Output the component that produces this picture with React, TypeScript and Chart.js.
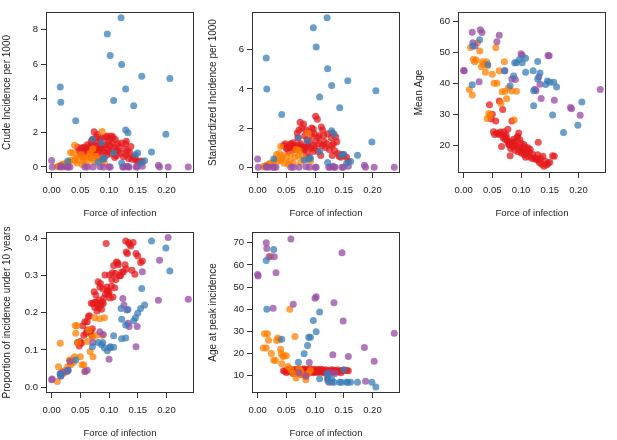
import React, { useEffect, useRef } from 'react';
import Chart from 'chart.js/auto';

// x ticks and axis range shared by every panel (force of infection)
const xTicks = [0, 0.05, 0.1, 0.15, 0.2];
const X_MIN = -0.0098;
const X_MAX = 0.248;

// red group
const redX = [0.045, 0.048, 0.050, 0.052, 0.054, 0.056, 0.058, 0.060, 0.062, 0.062,
  0.064, 0.066, 0.068, 0.069, 0.070, 0.071, 0.072, 0.074, 0.075, 0.076,
  0.077, 0.078, 0.079, 0.080, 0.081, 0.082, 0.083, 0.084, 0.085, 0.086,
  0.087, 0.088, 0.089, 0.090, 0.091, 0.093, 0.094, 0.095, 0.096, 0.097,
  0.098, 0.099, 0.100, 0.101, 0.102, 0.104, 0.105, 0.106, 0.107, 0.108,
  0.110, 0.111, 0.112, 0.113, 0.115, 0.116, 0.118, 0.120, 0.122, 0.125,
  0.128, 0.129, 0.130, 0.130, 0.132, 0.134, 0.136, 0.138, 0.140, 0.142,
  0.145, 0.147, 0.150, 0.155, 0.158];
const redCrude = [1.15, 0.95, 0.75, 1.10, 0.60, 1.15, 1.10, 0.95, 1.30, 1.00,
  0.75, 1.20, 0.55, 1.50, 1.35, 0.90, 1.60, 2.05, 1.00, 1.25,
  1.75, 0.65, 1.20, 1.90, 0.85, 1.50, 1.00, 1.60, 0.60, 1.30,
  1.10, 0.95, 1.70, 0.45, 1.25, 0.85, 1.75, 1.30, 0.70, 1.80,
  1.05, 1.50, 0.90, 1.65, 1.25, 1.80, 0.75, 1.40, 1.75, 1.10,
  0.55, 1.60, 1.00, 0.65, 1.35, 0.95, 1.20, 0.80, 1.40, 0.60,
  1.05, 1.35, 1.50, 0.70, 0.95, 0.50, 0.85, 1.20, 0.45, 0.60,
  0.55, 0.40, 0.30, 0.35, 0.30];
const redStd = [1.10, 1.20, 0.95, 1.00, 0.80, 1.15, 1.20, 0.85, 1.25, 1.05,
  1.10, 0.95, 0.90, 1.75, 1.50, 1.15, 1.90, 2.30, 1.20, 1.05,
  2.00, 0.95, 1.00, 2.20, 0.85, 1.60, 1.00, 1.90, 0.70, 1.40,
  1.20, 1.05, 1.80, 0.50, 1.30, 0.95, 2.00, 1.60, 0.80, 1.95,
  1.10, 1.70, 1.00, 2.60, 1.35, 2.45, 0.80, 1.50, 1.60, 1.20,
  0.60, 2.05, 1.10, 1.90, 1.60, 1.30, 1.00, 1.20, 1.70, 0.90,
  1.50, 1.10, 1.75, 0.60, 1.20, 0.85, 1.55, 1.30, 0.70, 0.55,
  0.50, 0.65, 0.60, 0.50, 0.30];
const redAge = [33.1, 28.5, 30.0, 24.4, 23.5, 27.9, 24.0, 23.8, 34.3, 23.5,
  24.3, 19.7, 31.6, 22.5, 24.4, 23.0, 22.0, 23.5, 22.3, 21.5,
  25.2, 20.5, 21.0, 20.1, 16.7, 19.0, 21.2, 27.9, 20.0, 19.5,
  22.0, 21.0, 18.5, 20.3, 19.8, 22.5, 22.9, 18.0, 24.0, 19.5,
  21.8, 18.3, 20.7, 17.5, 19.0, 18.0, 20.3, 17.0, 19.5, 16.2,
  18.3, 17.8, 19.3, 16.5, 17.8, 18.8, 16.0, 17.2, 15.7, 16.0,
  15.3, 17.0, 15.6, 21.0, 14.5, 15.8, 14.0, 16.5, 13.3, 14.9,
  13.8, 14.3, 14.6, 16.7, 16.5];
const redProp = [0.120, 0.111, 0.123, 0.118, 0.165, 0.140, 0.176, 0.145, 0.154, 0.176,
  0.190, 0.192, 0.150, 0.226, 0.138, 0.157, 0.225, 0.257, 0.215, 0.230,
  0.248, 0.228, 0.205, 0.222, 0.284, 0.213, 0.235, 0.270, 0.279, 0.222,
  0.210, 0.230, 0.265, 0.225, 0.240, 0.302, 0.250, 0.387, 0.270, 0.257,
  0.260, 0.250, 0.257, 0.302, 0.240, 0.272, 0.290, 0.308, 0.243, 0.328,
  0.268, 0.306, 0.290, 0.337, 0.335, 0.330, 0.300, 0.300, 0.310, 0.310,
  0.330, 0.394, 0.364, 0.318, 0.360, 0.390, 0.385, 0.380, 0.315, 0.390,
  0.304, 0.360, 0.353, 0.336, 0.340];
const redPeak = [12.3, 12.0, 11.5, 12.8, 12.0, 13.0, 11.8, 12.5, 11.0, 12.6,
  11.5, 12.8, 12.2, 11.0, 12.3, 13.0, 12.0, 11.4, 12.6, 10.5,
  12.4, 12.9, 11.7, 12.2, 13.0, 11.9, 12.4, 9.5, 12.1, 12.8,
  11.2, 12.5, 12.0, 11.5, 13.1, 12.2, 11.8, 12.6, 12.0, 11.3,
  12.9, 12.2, 11.7, 12.4, 12.0, 12.8, 11.5, 12.5, 12.1, 11.8,
  12.9, 12.3, 11.6, 12.6, 12.0, 11.4, 12.7, 12.2, 9.0, 12.5,
  12.1, 11.8, 12.7, 12.0, 11.5, 12.4, 12.2, 11.8, 12.6, 12.0,
  11.3, 12.4, 12.3, 12.5, 12.2];

// orange group
const orangeX = [0.010, 0.012, 0.015, 0.017, 0.019, 0.022, 0.024, 0.028, 0.031, 0.033,
  0.035, 0.038, 0.040, 0.041, 0.042, 0.044, 0.046, 0.050, 0.053, 0.056,
  0.058, 0.062, 0.065, 0.067, 0.071, 0.072, 0.075, 0.078, 0.084, 0.088, 0.092];
const orangeCrude = [0.02, 0.05, 0.08, 0.12, 0.14, 0.19, 0.10, 0.23, 0.33, 0.85,
  0.40, 0.81, 1.26, 0.39, 0.52, 0.23, 0.46, 0.71, 0.14, 0.33,
  0.52, 0.23, 0.62, 0.81, 0.45, 1.06, 0.30, 0.62, 0.43, 2.07, 0.23];
const orangeStd = [0.02, 0.04, 0.08, 0.10, 0.15, 0.20, 0.08, 0.25, 0.40, 0.65,
  0.30, 0.70, 1.05, 0.35, 0.45, 0.60, 0.20, 0.50, 0.15, 0.30,
  0.65, 0.20, 0.50, 0.90, 0.60, 0.85, 0.25, 0.55, 0.40, 1.75, 0.30];
const orangeAge = [38.0, 51.5, 36.2, 47.7, 46.9, 47.5, 53.0, 50.4, 45.3, 46.9,
  46.0, 43.5, 46.9, 28.7, 45.6, 30.3, 29.8, 42.9, 40.0, 51.4,
  40.0, 44.0, 33.5, 37.3, 46.9, 37.4, 35.0, 38.5, 37.5, 28.2, 37.4];
const orangeProp = [0.015, 0.055, 0.118, 0.036, 0.042, 0.038, 0.045, 0.055, 0.073, 0.060,
  0.073, 0.066, 0.082, 0.166, 0.145, 0.165, 0.120, 0.082, 0.060, 0.060,
  0.042, 0.123, 0.154, 0.096, 0.134, 0.082, 0.187, 0.140, 0.184, 0.140, 0.187];
const orangePeak = [22.5, 29.0, 22.5, 28.9, 26.0, 64.0, 20.0, 17.0, 16.9, 25.9,
  27.0, 26.2, 22.0, 19.9, 15.4, 18.7, 19.0, 19.0, 14.2, 40.0,
  12.7, 11.0, 27.7, 9.0, 11.2, 13.3, 12.0, 10.5, 8.2, 11.0, 12.5];

// blue group
const blueX = [0.015, 0.016, 0.028, 0.042, 0.071, 0.081, 0.087, 0.089, 0.092, 0.097,
  0.102, 0.108, 0.108, 0.121, 0.122, 0.122, 0.129, 0.129, 0.133, 0.143,
  0.146, 0.150, 0.155, 0.157, 0.162, 0.174, 0.199, 0.206];
const blueCrude = [4.66, 3.77, 0.35, 2.69, 1.62, 0.27, 1.43, 0.45, 0.52, 7.75,
  6.49, 3.88, 0.81, 8.70, 5.97, 0.23, 4.54, 2.16, 2.00, 3.57,
  0.71, 0.81, 0.23, 5.29, 0.37, 0.87, 1.91, 5.16];
const blueStd = [5.58, 4.00, 0.41, 2.69, 1.50, 0.37, 1.34, 0.41, 0.45, 7.12,
  6.14, 3.59, 0.80, 7.63, 5.03, 0.24, 4.17, 1.86, 1.69, 3.03,
  0.62, 0.66, 0.20, 4.42, 0.29, 0.61, 1.29, 3.90];
const blueAge = [39.5, 52.0, 54.0, 46.0, 44.0, 39.2, 42.3, 46.6, 46.6, 47.6,
  46.6, 48.0, 43.5, 44.0, 37.6, 32.8, 47.0, 41.4, 43.3, 39.6,
  40.7, 40.3, 29.8, 40.3, 38.8, 24.2, 26.5, 34.0];
const blueProp = [0.036, 0.030, 0.045, 0.073, 0.109, 0.120, 0.114, 0.120, 0.105, 0.098,
  0.109, 0.138, 0.107, 0.212, 0.130, 0.183, 0.132, 0.167, 0.209, 0.179,
  0.187, 0.199, 0.212, 0.266, 0.221, 0.394, 0.375, 0.313];
const bluePeak = [62.0, 40.0, 67.0, 26.5, 16.1, 19.9, 23.6, 27.4, 27.4, 34.9,
  29.9, 38.8, 8.6, 10.9, 10.0, 8.0, 8.5, 7.2, 7.0, 7.0,
  7.0, 12.7, 7.0, 7.0, 7.0, 7.0, 7.0, 4.9];

// purple group
const purpleX = [0.000, 0.001, 0.015, 0.016, 0.020, 0.027, 0.029, 0.032, 0.058, 0.062,
  0.072, 0.084, 0.090, 0.100, 0.102, 0.124, 0.126, 0.131, 0.133, 0.135,
  0.147, 0.149, 0.158, 0.186, 0.188, 0.203, 0.238];
const purpleCrude = [0.38, 0.00, 0.00, 0.05, 0.00, 0.00, 0.00, 0.00, 0.00, 0.00,
  0.00, 0.02, 0.00, 0.00, 0.00, 0.00, 0.00, 0.05, 0.00, 0.00,
  0.00, 0.00, 0.05, 0.10, 0.00, 0.00, 0.00];
const purpleStd = [0.42, 0.00, 0.00, 0.03, 0.00, 0.00, 0.00, 0.00, 0.00, 0.00,
  0.00, 0.02, 0.00, 0.00, 0.00, 0.00, 0.00, 0.05, 0.00, 0.00,
  0.00, 0.00, 0.05, 0.10, 0.00, 0.00, 0.00];
const purpleAge = [44.1, 44.0, 56.4, 53.0, 52.0, 40.5, 57.2, 56.3, 53.3, 55.4,
  44.0, 41.4, 41.2, 49.5, 49.0, 38.1, 37.6, 42.1, 39.7, 35.1,
  48.9, 48.8, 34.5, 32.2, 31.8, 29.7, 38.0];
const purpleProp = [0.020, 0.022, 0.036, 0.030, 0.040, 0.042, 0.045, 0.069, 0.042, 0.045,
  0.120, 0.149, 0.142, 0.075, 0.106, 0.239, 0.221, 0.208, 0.172, 0.163,
  0.109, 0.163, 0.311, 0.234, 0.342, 0.403, 0.237];
const purplePeak = [55.7, 55.0, 70.0, 67.5, 63.7, 40.5, 63.7, 56.5, 71.7, 42.3,
  11.5, 10.0, 16.0, 45.0, 45.7, 7.0, 11.5, 19.5, 43.0, 11.0,
  65.5, 34.7, 18.7, 22.7, 7.5, 16.5, 29.2];

type Measure = 'crude' | 'std' | 'age' | 'prop' | 'peak';

// drawing order: later groups sit on top
const groups = [
  { color: 'rgba(55,126,184,0.74)', x: blueX, y: { crude: blueCrude, std: blueStd, age: blueAge, prop: blueProp, peak: bluePeak } },
  { color: 'rgba(152,78,163,0.76)', x: purpleX, y: { crude: purpleCrude, std: purpleStd, age: purpleAge, prop: purpleProp, peak: purplePeak } },
  { color: 'rgba(255,127,0,0.74)', x: orangeX, y: { crude: orangeCrude, std: orangeStd, age: orangeAge, prop: orangeProp, peak: orangePeak } },
  { color: 'rgba(228,26,28,0.74)', x: redX, y: { crude: redCrude, std: redStd, age: redAge, prop: redProp, peak: redPeak } },
];

interface PanelSpec {
  measure: Measure;
  label: string;
  yMin: number;
  yMax: number;
  yTicks: number[];
  digits: number;
  left: number;
  top: number;
}

const panels: PanelSpec[] = [
  { measure: 'crude', label: 'Crude Incidence per 1000', yMin: -0.35, yMax: 9.03, yTicks: [0, 2, 4, 6, 8], digits: 0, left: 0, top: 0 },
  { measure: 'std', label: 'Standardized Incidence per 1000', yMin: -0.3, yMax: 7.93, yTicks: [0, 2, 4, 6], digits: 0, left: 206, top: 0 },
  { measure: 'age', label: 'Mean Age', yMin: 11.15, yMax: 62.9, yTicks: [20, 30, 40, 50, 60], digits: 0, left: 412, top: 0 },
  { measure: 'prop', label: 'Proportion of incidence under 10 years', yMin: -0.016, yMax: 0.418, yTicks: [0, 0.1, 0.2, 0.3, 0.4], digits: 1, left: 0, top: 220 },
  { measure: 'peak', label: 'Age at peak incidence', yMin: 2.2, yMax: 74.9, yTicks: [10, 20, 30, 40, 50, 60, 70], digits: 0, left: 206, top: 220 },
];

const FONT = 'Liberation Sans, Arial, Helvetica, sans-serif';
const tickFont = { family: FONT, size: 9.5 };

const Panel = ({ spec }: { spec: PanelSpec }) => {
  const chartRef = useRef<HTMLCanvasElement>(null);

  useEffect(() => {
    if (!chartRef.current) return;
    // box round the plot area plus the two axis titles
    const frame = {
      id: 'frame',
      afterDraw(chart: Chart) {
        const { ctx, chartArea: a } = chart;
        ctx.save();
        ctx.strokeStyle = '#333';
        ctx.lineWidth = 1;
        ctx.strokeRect(a.left + 0.5, a.top + 0.5, a.right - a.left - 1, a.bottom - a.top - 1);
        ctx.fillStyle = '#222';
        ctx.font = `9.5px ${FONT}`;
        ctx.textAlign = 'center';
        ctx.textBaseline = 'middle';
        ctx.fillText('Force of infection', (a.left + a.right) / 2, a.bottom + 40);
        ctx.translate(7, (a.top + a.bottom) / 2);
        ctx.rotate(-Math.PI / 2);
        ctx.font = `10px ${FONT}`;
        ctx.fillText(spec.label, 0, 0);
        ctx.restore();
      },
    };
    const chart = new Chart(chartRef.current, {
      type: 'scatter',
      data: {
        datasets: groups.map((g) => ({
          data: g.x.map((x, i) => ({ x, y: g.y[spec.measure][i] })),
          backgroundColor: g.color,
          borderWidth: 0,
          pointRadius: 3.5,
          pointHoverRadius: 3.5,
        })),
      },
      options: {
        responsive: false,
        animation: false,
        events: [],
        layout: { padding: { top: 12, right: 8, left: 0, bottom: 0 } },
        plugins: { legend: { display: false }, tooltip: { enabled: false } },
        scales: {
          x: {
            type: 'linear',
            min: X_MIN,
            max: X_MAX,
            afterBuildTicks: (axis: any) => {
              axis.ticks = xTicks.map((value) => ({ value }));
            },
            afterFit: (axis: any) => {
              axis.height = 47;
            },
            border: { display: false },
            grid: { drawOnChartArea: false, tickLength: 5, tickColor: '#333', color: '#333' },
            ticks: {
              autoSkip: false,
              maxRotation: 0,
              padding: 7,
              color: '#222',
              font: tickFont,
              callback: (v: any) => Number(v).toFixed(2),
            },
          },
          y: {
            type: 'linear',
            min: spec.yMin,
            max: spec.yMax,
            afterBuildTicks: (axis: any) => {
              axis.ticks = spec.yTicks.map((value) => ({ value }));
            },
            afterFit: (axis: any) => {
              axis.width = 46;
            },
            border: { display: false },
            grid: { drawOnChartArea: false, tickLength: 5, tickColor: '#333', color: '#333' },
            ticks: {
              autoSkip: false,
              padding: 3,
              color: '#222',
              font: tickFont,
              callback: (v: any) => Number(v).toFixed(spec.digits),
            },
          },
        },
      },
      plugins: [frame],
    });
    return () => {
      chart.destroy();
    };
  }, [spec]);

  return (
    <canvas
      ref={chartRef}
      width={202}
      height={220}
      style={{ position: 'absolute', left: spec.left, top: spec.top, width: 202, height: 220 }}
    />
  );
};

export default function App() {
  return (
    <div style={{ position: 'absolute', left: 0, top: 0, width: 617, height: 440, background: '#fff' }}>
      {panels.map((p) => (
        <Panel key={p.measure} spec={p} />
      ))}
    </div>
  );
}
